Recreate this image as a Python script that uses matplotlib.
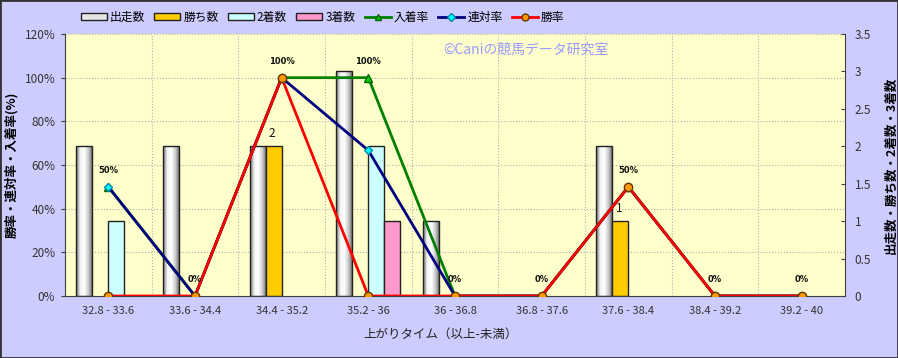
import numpy as np
import matplotlib
matplotlib.use('Agg')
import matplotlib.pyplot as plt
from matplotlib.colors import LinearSegmentedColormap
from matplotlib.lines import Line2D
from matplotlib.patches import Patch, Rectangle
from matplotlib.transforms import blended_transform_factory

plt.rcParams['font.family'] = ['Noto Sans CJK JP', 'DejaVu Sans']

#データ
categories = ['32.8 - 33.6', '33.6 - 34.4', '34.4 - 35.2', '35.2 - 36', '36 - 36.8',
              '36.8 - 37.6', '37.6 - 38.4', '38.4 - 39.2', '39.2 - 40']
runs    = [2, 2, 2, 3, 1, 0, 2, 0, 0]   #出走数
wins    = [0, 0, 2, 0, 0, 0, 1, 0, 0]   #勝ち数
seconds = [1, 0, 0, 2, 0, 0, 0, 0, 0]   #2着数
thirds  = [0, 0, 0, 1, 0, 0, 0, 0, 0]   #3着数
win_rate    = [0, 0, 100, 0, 0, 0, 50, 0, 0]        #勝率
rentai_rate = [50, 0, 100, 66.7, 0, 0, 50, 0, 0]    #連対率
place_rate  = [50, 0, 100, 100, 0, 0, 50, 0, 0]     #入着率

W, H = 898, 358
fig = plt.figure(figsize=(W/100, H/100), dpi=100, facecolor='#CCCCFF')
fig.patches.append(Rectangle((0, 0), 1, 1, transform=fig.transFigure, fill=False,
                             edgecolor='#333333', lw=2))

#左軸(率)と右軸(数)
ax_p = fig.add_axes([65/W, 1-296/H, 780/W, 262/H])
ax_c = ax_p.twinx()
ax_p.set_zorder(ax_c.get_zorder() + 1)
ax_p.patch.set_visible(False)
ax_c.patch.set_visible(True)
ax_c.patch.set_facecolor('#FFFFCC')

x = np.arange(len(categories))
w = 0.185

#グリッド（棒の後ろ）
trans = blended_transform_factory(ax_c.transAxes, ax_p.transData)
for p in range(20, 121, 20):
    ax_c.add_line(Line2D([0, 1], [p, p], transform=trans, color='#B0B0B0',
                         lw=0.8, ls=':', zorder=0.5))
for b in np.arange(0.5, len(categories) - 1):
    ax_c.axvline(b, color='#B0B0B0', lw=0.8, ls=':', zorder=0.5)

#出走数（グラデーション）
gray_cmap = LinearSegmentedColormap.from_list('cyl', ['#707070', '#F4F4F4', '#FFFFFF', '#C8C8C8', '#606060'])
grad = np.linspace(0, 1, 64).reshape(1, -1)
bars = ax_c.bar(x - 1.5*w, runs, w, facecolor='none', edgecolor='#222222', lw=1, zorder=3)
for r in bars:
    if r.get_height() > 0:
        ax_c.imshow(grad, cmap=gray_cmap, aspect='auto', zorder=2,
                    extent=[r.get_x(), r.get_x() + r.get_width(), 0, r.get_height()])

bar_sets = [bars,
            ax_c.bar(x - 0.5*w, wins, w, color='#FFCC00', edgecolor='#222222', lw=1, zorder=3),
            ax_c.bar(x + 0.5*w, seconds, w, color='#CCFFFF', edgecolor='#222222', lw=1, zorder=3),
            ax_c.bar(x + 1.5*w, thirds, w, color='#FF99CC', edgecolor='#222222', lw=1, zorder=3)]
#高さ0の棒は枠線も消す
for bs in bar_sets:
    for r in bs:
        if r.get_height() == 0:
            r.set_visible(False)

for i, v in enumerate(wins):
    if v > 0:
        ax_c.annotate(str(v), (x[i] - 0.5*w, v), xytext=(-1, 9), textcoords='offset points',
                      ha='center', va='center', fontsize=8.5, color='#111111', zorder=5)

#率の折れ線
ax_p.plot(x, place_rate, color='#008000', lw=2, marker='^', ms=6,
          mfc='#00CC00', mec='#006600', zorder=3)
ax_p.plot(x, rentai_rate, color='#000080', lw=2, marker='D', ms=4.5,
          mfc='#00FFFF', mec='#0088AA', zorder=4)
ax_p.plot(x, win_rate, color='#FF0000', lw=2, marker='o', ms=6,
          mfc='#FF9900', mec='#663300', zorder=5)

for i, v in enumerate(place_rate):
    ax_p.annotate(f'{v:g}%', (x[i], v), xytext=(0, 12), textcoords='offset points',
                  ha='center', va='center', fontsize=6, fontweight='bold',
                  family='DejaVu Sans', color='#111111', zorder=6)

#軸設定
ax_p.set_xlim(-0.5, len(categories) - 0.5)
ax_p.set_ylim(0, 120)
ax_p.set_yticks(range(0, 121, 20))
ax_p.set_yticklabels([f'{v}%' for v in range(0, 121, 20)])
ax_c.set_ylim(0, 3.5)
ticks_c = np.arange(0, 3.51, 0.5)
ax_c.set_yticks(ticks_c)
ax_c.set_yticklabels([f'{v:g}' for v in ticks_c])
ax_p.set_xticks(x)
ax_p.set_xticklabels(categories)

ax_p.tick_params(axis='x', length=0, pad=7, labelsize=8, labelcolor='#333333')
ax_p.tick_params(axis='y', direction='out', length=3, pad=4, labelsize=8.5,
                 labelcolor='#333333', color='#404040')
ax_c.tick_params(axis='y', direction='in', length=3, pad=7, labelsize=8.5,
                 labelcolor='#333333', color='#404040')

for s in ['top', 'right']:
    ax_p.spines[s].set_visible(False)
for s in ['top', 'left', 'bottom']:
    ax_c.spines[s].set_visible(False)
ax_p.spines['left'].set_color('#404040')
ax_p.spines['bottom'].set_color('#404040')
ax_c.spines['right'].set_color('#404040')

ax_p.set_ylabel('勝率・連対率・入着率(%)', fontsize=9, fontweight='bold')
ax_p.yaxis.set_label_coords(-47/780, 0.5)
ax_c.set_ylabel('出走数・勝ち数・2着数・3着数', fontsize=9, fontweight='bold', rotation=90)
ax_c.yaxis.set_label_coords(1.051, 0.5)

fig.text(441/W, 1-334/H, '上がりタイム（以上-未満）', ha='center', va='center',
         fontsize=9, color='#222222')
fig.text(443/W, 1-50/H, '©Caniの競馬データ研究室', ha='left', va='center',
         fontsize=10, color='#9999FF')

#凡例
handles = [Patch(facecolor='#E6E6E6', edgecolor='#222222'),
           Patch(facecolor='#FFCC00', edgecolor='#222222'),
           Patch(facecolor='#CCFFFF', edgecolor='#222222'),
           Patch(facecolor='#FF99CC', edgecolor='#222222'),
           Line2D([], [], color='#008000', lw=2, marker='^', ms=5, mfc='#00CC00', mec='#006600'),
           Line2D([], [], color='#000080', lw=2, marker='D', ms=4, mfc='#00FFFF', mec='#0088AA'),
           Line2D([], [], color='#FF0000', lw=2, marker='o', ms=5, mfc='#FF9900', mec='#663300')]
labels = ['出走数', '勝ち数', '2着数', '3着数', '入着率', '連対率', '勝率']
fig.legend(handles, labels, loc='center left', bbox_to_anchor=(76/W, 1-17/H), ncol=7,
           frameon=False, fontsize=8.5, handlelength=2.2, handleheight=0.5,
           columnspacing=0.8, handletextpad=0.25, borderaxespad=0)

fig.savefig('out.png', dpi=100, facecolor=fig.get_facecolor())
